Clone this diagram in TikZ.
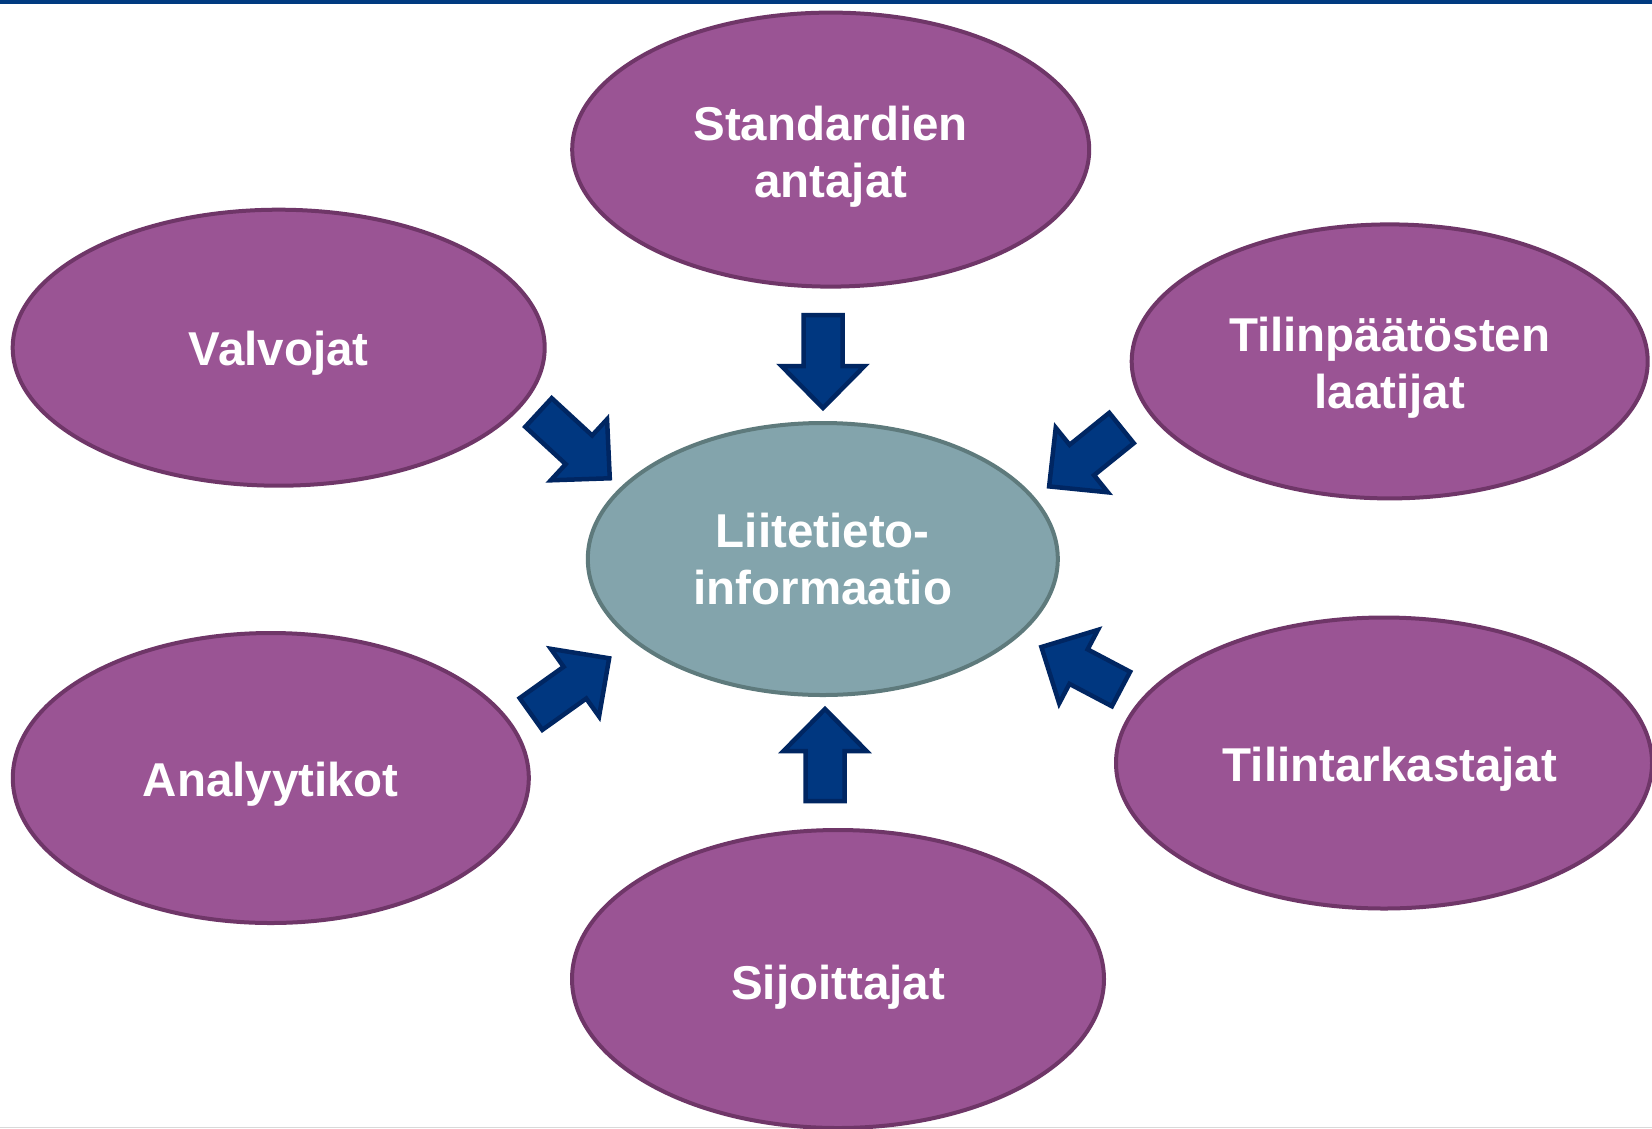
\documentclass[tikz,border=0pt]{standalone}
\usepackage{fontspec}
\setmainfont{Liberation Sans}
\usetikzlibrary{shapes.geometric}
\definecolor{barblue}{HTML}{003A80}
\definecolor{purplefill}{HTML}{9A5494}
\definecolor{purpleline}{HTML}{6F3668}
\definecolor{tealfill}{HTML}{83A4AC}
\definecolor{tealline}{HTML}{5E7A7C}
\definecolor{arrowfill}{HTML}{003780}
\definecolor{arrowline}{HTML}{002662}
\tikzset{
  caption/.style={text=white, align=center, inner sep=0pt,
    font=\bfseries\fontsize{47.5}{57}\selectfont},
  group/.style={ellipse, draw=purpleline, fill=purplefill, line width=4pt,
    inner sep=0pt},
  hub/.style={group, draw=tealline, fill=tealfill},
  arrowbox/.style={draw=arrowline, fill=arrowfill, line width=4.5pt, line join=miter},
  % block arrow with its tail centred at the origin, pointing along +x
  pics/inarrow/.style={code={
    \path[arrowbox] (0,-19.5) -- ({#1-42},-19.5) -- ({#1-42},-41.5) -- (#1,0)
      -- ({#1-42},41.5) -- ({#1-42},19.5) -- (0,19.5) -- cycle;
  }}
}
\begin{document}
\begin{tikzpicture}[x=1pt,y=-1pt]
\useasboundingbox (0,0) rectangle (1652,1128);
\clip (0,0) rectangle (1652,1128);
\fill[white] (0,0) rectangle (1652,1128);

% frame lines
\fill[barblue] (0,0) rectangle (1652,4);
\fill[black!15] (0,1127) rectangle (1652,1128);

% centre
\node[hub, minimum width=470pt, minimum height=272pt,
  label={[caption]center:Liitetieto-\\informaatio}] (lii) at (822.8,559) {};

% surrounding groups
\node[group, minimum width=517pt, minimum height=274pt,
  label={[caption, yshift=-7pt]center:Standardien\\antajat}] (std) at (830.7,149.6) {};
\node[group, minimum width=532pt, minimum height=276pt,
  label={[caption, yshift=-6pt]center:Valvojat}] (val) at (278.7,347.7) {};
\node[group, minimum width=516pt, minimum height=274pt,
  label={[caption, yshift=-6pt]center:Tilinpäätösten\\laatijat}] (til) at (1389.7,361.4) {};
\node[group, minimum width=516pt, minimum height=290pt,
  label={[caption, yshift=-6pt]center:Analyytikot}] (ana) at (270.8,778) {};
\node[group, minimum width=536pt, minimum height=291pt,
  label={[caption, yshift=-6pt, xshift=6pt]center:Tilintarkastajat}] (tar) at (1384,763) {};
\node[group, minimum width=532pt, minimum height=298pt,
  label={[caption, yshift=-8pt]center:Sijoittajat}] (sij) at (838,979) {};

% block arrows pointing at the centre
\pic[rotate=-90] (aStd) at (823,315) {inarrow=93};
\pic[rotate=90] (aSij) at (825,801) {inarrow=92};
\pic[rotate=-42.7] (aVal) at (538.5,412.5) {inarrow=97};
\pic[rotate=218.9] (aTil) at (1121.5,428) {inarrow=93};
\pic[rotate=35.5] (aAna) at (531,714) {inarrow=96};
\pic[rotate=152.2] (aTar) at (1121,689) {inarrow=90};
\end{tikzpicture}
\end{document}
